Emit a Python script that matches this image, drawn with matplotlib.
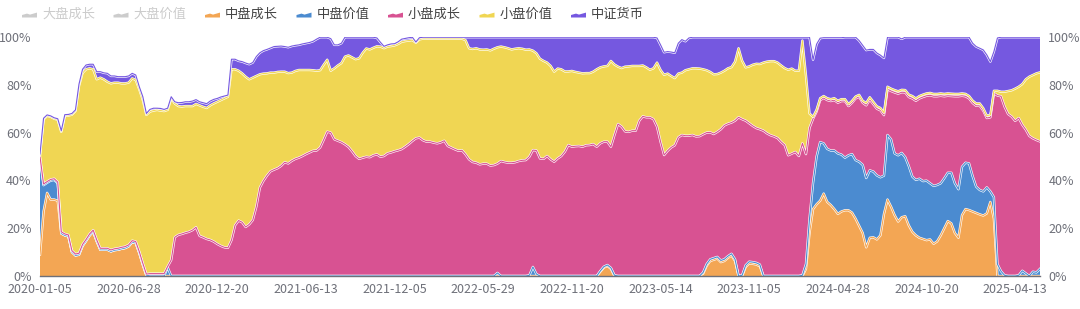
import numpy as np
import pandas as pd
import matplotlib
matplotlib.use("Agg")
import matplotlib.pyplot as plt
from matplotlib.patches import Polygon

plt.rcParams['font.family'] = ['Noto Sans CJK SC', 'DejaVu Sans']

# weekly category axis, a label every 25 weeks
weeks = pd.date_range('2020-01-05', periods=283, freq='7D')
dates = [d.strftime('%Y-%m-%d') for d in weeks]
tick_step = 25

legend_names = ['大盘成长', '大盘价值', '中盘成长', '中盘价值', '小盘成长', '小盘价值', '中证货币']
hidden_names = ['大盘成长', '大盘价值']

# weights in % (stack order: mid growth, mid value, small growth, small value, money)
mid_growth = [
    9, 27, 34.8, 32, 32, 31.5, 17.8, 17, 16.6, 10,
    8.6, 8.9, 12.6, 14.7, 17, 18.6, 14.5, 11, 11, 11,
    10.3, 10.8, 11, 11.4, 11.7, 12.4, 14.2, 13.8, 9.6, 4.7,
    0.3, 0, 0, 0, 0, 0, 0, 0, 0, 0,
    0, 0, 0, 0, 0, 0, 0, 0, 0, 0,
    0, 0, 0, 0, 0, 0, 0, 0, 0, 0,
    0, 0, 0, 0, 0, 0, 0, 0, 0, 0,
    0, 0, 0, 0, 0, 0, 0, 0, 0, 0,
    0, 0, 0, 0, 0, 0, 0, 0, 0, 0,
    0, 0, 0, 0, 0, 0, 0, 0, 0, 0,
    0, 0, 0, 0, 0, 0, 0, 0, 0, 0,
    0, 0, 0, 0, 0, 0, 0, 0, 0, 0,
    0, 0, 0, 0, 0, 0, 0, 0, 0, 0,
    0, 0, 0, 0, 0, 0, 0, 0, 0, 0,
    0, 0, 0, 0, 0, 0, 0, 0, 0, 0,
    0, 0, 0, 0, 0, 0, 0, 0, 1.8, 3.5,
    4.2, 3, 0, 0, 0, 0, 0, 0, 0, 0,
    0, 0, 0, 0, 0, 0, 0, 0, 0, 0,
    0, 0, 0, 0, 0, 0, 0, 1, 4.3, 6.3,
    6.8, 7.3, 5.8, 6.3, 7.6, 8.6, 6.3, 0, 0, 3.8,
    5.3, 5.1, 4.8, 4.1, 0, 0, 0, 0, 0, 0,
    0, 0, 0, 0, 0, 0, 3, 18, 28, 30,
    31.5, 34.5, 31, 29.7, 28, 26, 27, 27.5, 27.5, 26.5,
    24, 21, 18, 12, 16, 16.2, 15.3, 17, 26, 32,
    29, 25.5, 22.8, 24.6, 25, 21.2, 18.5, 17, 16, 15.5,
    15, 15.3, 13.5, 14.5, 17, 20, 23, 22, 18, 16,
    25.5, 28, 27.6, 27, 26.4, 25.8, 25.3, 26.2, 31, 24,
    0, 0, 0, 0, 0, 0, 0, 0, 0, 0,
    0, 0, 0,
]

mid_value = [
    40, 11, 4.2, 7.9, 8.2, 7.3, 0, 0, 0, 0,
    0, 0, 0, 0, 0, 0, 0, 0, 0, 0,
    0, 0, 0, 0, 0, 0, 0, 0, 0, 0,
    0, 0, 0, 0, 0, 0, 3.6, 0, 0, 0,
    0, 0, 0, 0, 0, 0, 0, 0, 0, 0,
    0, 0, 0, 0, 0, 0, 0, 0, 0, 0,
    0, 0, 0, 0, 0, 0, 0, 0, 0, 0,
    0, 0, 0, 0, 0, 0, 0, 0, 0, 0,
    0, 0, 0, 0, 0, 0, 0, 0, 0, 0,
    0, 0, 0, 0, 0, 0, 0, 0, 0, 0,
    0, 0, 0, 0, 0, 0, 0, 0, 0, 0,
    0, 0, 0, 0, 0, 0, 0, 0, 0, 0,
    0, 0, 0, 0, 0, 0, 0, 0, 0, 1.3,
    0, 0, 0, 0, 0, 0, 0, 0, 0.3, 3.8,
    0.8, 0, 0, 0, 0, 0, 0, 0, 0, 0,
    0, 0, 0, 0, 0, 0, 0, 0, 0.3, 0.4,
    0.4, 0.4, 0.3, 0, 0, 0, 0, 0, 0, 0,
    0, 0, 0, 0, 0, 0, 0, 0, 0, 0,
    0, 0, 0, 0, 0, 0, 0, 0.5, 0.7, 0.7,
    0.7, 0.7, 0.7, 0.7, 0.7, 0.7, 0.7, 0, 0.3, 0.7,
    0.7, 0.7, 0.7, 0.7, 0, 0, 0, 0, 0, 0,
    0, 0, 0, 0, 0, 0.3, 2, 6, 11, 20,
    24.5, 21, 22.2, 22.8, 24.5, 25.3, 23.8, 22, 23, 24.5,
    24.5, 26.8, 28.5, 29, 28.2, 27.5, 26.8, 24.3, 16, 27,
    28.2, 25.8, 27.7, 26.9, 24.7, 24.8, 23.1, 23.2, 24.7, 24.2,
    24.9, 23.5, 24.2, 23.6, 21.8, 20.9, 20.2, 21.2, 20.8, 20.3,
    20.2, 19.4, 19.5, 14.8, 11, 10.2, 10.1, 10.9, 4.4, 9,
    5, 2, 0.3, 0, 0, 0, 0.3, 2.2, 1.1, 0,
    1.8, 1.5, 3,
]

small_growth = [
    1, 0.5, 0.5, 0.5, 0.5, 0.5, 0.7, 0.6, 0.6, 0.6,
    0.6, 0.6, 0.6, 0.6, 0.6, 0.6, 0.6, 0.6, 0.6, 0.6,
    0.6, 0.6, 0.6, 0.6, 0.6, 0.6, 0.6, 0.6, 0.6, 0.6,
    0.5, 1, 1, 1, 1, 1, 0.4, 6.7, 16.2, 17.2,
    17.6, 18.1, 18.5, 19.2, 20.4, 16.8, 16.2, 15.5, 15.1, 14.4,
    13.4, 12.6, 12, 11.8, 15, 21.2, 23.2, 22.5, 20.5, 21.6,
    23.4, 29, 37, 39.8, 42, 43.8, 44.5, 45.1, 46.1, 47.6,
    47.1, 48.2, 49, 49.5, 50.2, 51, 51.7, 52.4, 52.5, 53.8,
    57, 60.4, 60, 57.2, 56.6, 56, 55.1, 54, 52.2, 50.2,
    49, 49.5, 49.9, 49.7, 50.5, 50.9, 49.9, 50.2, 51.3, 51.7,
    52.2, 52.6, 53.1, 54.1, 55.2, 56.5, 57.6, 57.9, 56.8, 56.2,
    56.2, 55.8, 55.5, 55.9, 56.6, 54.4, 53.7, 53, 52.4, 52.6,
    50.9, 48.8, 47.7, 47.4, 46.7, 47, 47, 46.2, 46.4, 45.7,
    48.1, 47.7, 47.4, 47.4, 47.6, 48.1, 48.4, 48.5, 49.6, 48.9,
    51.7, 49.2, 49, 50.2, 48.8, 47.8, 49.2, 50.2, 52, 54.8,
    54.1, 54.3, 54.4, 54.1, 54.7, 54.8, 55.2, 54.1, 53.4, 52.3,
    51.6, 50.7, 58.7, 63.6, 62.5, 60.5, 60.3, 60.8, 60.8, 65,
    66.8, 66.4, 66.4, 65.6, 62.5, 56.2, 50.6, 52.4, 53.8, 54.7,
    58, 59, 58.7, 58.7, 59, 58.4, 58.5, 57.8, 55, 53.1,
    51.9, 52.3, 54.9, 56, 55.4, 54.9, 58, 66.4, 65.3, 60.5,
    57.9, 57, 56.4, 56.6, 60.8, 59.7, 58.9, 58.4, 57.7, 56.1,
    54.8, 50.5, 51.2, 51.9, 50.2, 55.2, 46, 38, 26.8, 18.8,
    17.6, 19, 20.4, 20.7, 21.1, 21.2, 22.4, 23.7, 20.6, 21.5,
    25.8, 27.2, 26, 30.4, 29.6, 28.2, 27.9, 28, 25.3, 19.2,
    20.2, 25.5, 25.8, 25.4, 27.1, 28.9, 32.7, 33.1, 33.6, 35.2,
    35.5, 36.8, 37.5, 37.1, 36.6, 34.3, 32.2, 32.1, 36.4, 38.9,
    29.7, 27.8, 27.2, 30.6, 33.8, 35.2, 33.8, 29, 31, 43.5,
    70.5, 73.2, 70.6, 67.8, 66.7, 64.9, 65.8, 61.1, 60.1, 58.6,
    55.8, 55.4, 53.3,
]

small_value = [
    0.5, 27, 27.5, 26.2, 25.1, 26.1, 41.8, 49.4, 49.9, 56.9,
    59.8, 70, 71.8, 71.2, 69.3, 67.3, 67.2, 71.4, 70.7, 69.7,
    69.7, 69.5, 69.3, 68.6, 68.3, 67.9, 67.9, 67.6, 67.9, 68.3,
    66.6, 67.8, 68.2, 68.5, 68.2, 68, 65.5, 67.6, 56, 53.9,
    53.3, 53, 52.6, 51.9, 51.6, 54.6, 54.6, 54.8, 56.3, 57.8,
    59.5, 61, 62.3, 63.2, 71.5, 65.3, 62.7, 62.3, 62.9, 60.7,
    59.6, 54.7, 47.4, 44.9, 42.8, 41.3, 40.6, 40.3, 39.4, 37.9,
    37.8, 36.9, 36.8, 36.7, 36, 35.2, 34.5, 33.7, 33.4, 32.3,
    31.4, 30.1, 25.9, 29.7, 31.5, 33.1, 36.7, 38.3, 39.3, 40.5,
    42.1, 43.9, 45.3, 45.1, 45, 45.2, 46.1, 45.1, 44.7, 44.5,
    44.3, 44.5, 44.9, 44.2, 43.3, 42.2, 40, 41.1, 42.5, 43.1,
    43.1, 43.5, 43.8, 43.4, 42.7, 44.9, 45.6, 46.3, 46.9, 46.7,
    47.8, 46.5, 47.3, 47.9, 48.1, 47.7, 47.8, 48.2, 48.7, 48.7,
    47.9, 48, 47.9, 47.4, 47.5, 47.2, 46.7, 46.2, 44.9, 41.6,
    40.7, 41.7, 41, 39.1, 39.1, 37.7, 37.6, 36.3, 33.6, 30.8,
    31.7, 31.1, 30.7, 30.7, 30.2, 30.1, 30.3, 32.4, 31.8, 31.5,
    31.7, 35.9, 29.5, 24, 24.5, 27.1, 27.4, 27.1, 27.1, 22.9,
    21.3, 20.9, 19.9, 21.3, 26.8, 30, 33.6, 32.3, 29.9, 28.1,
    26.7, 26.1, 27.4, 27.8, 27.9, 28.5, 28.3, 27.2, 26.1, 25.3,
    25, 24.2, 23.7, 22.9, 23.2, 23.2, 24.7, 28.9, 24.5, 22.3,
    23.8, 25.6, 26.9, 27.3, 28.5, 30, 31, 31.5, 31.6, 32,
    32.2, 35.8, 35.6, 34, 35.7, 43, 33, 6, 0.8, 0.8,
    0.8, 0.8, 0.8, 0.8, 0.8, 0.8, 0.8, 0.8, 0.8, 0.8,
    0.8, 0.8, 0.8, 1, 1, 1, 1, 1, 1, 1,
    1, 1, 1, 1, 1, 1, 1, 1, 1, 1,
    1, 1, 1, 1, 1, 1, 1, 1, 1, 1,
    1, 1, 1, 1, 1, 1, 1, 1, 1, 1,
    2, 1.9, 6.2, 9.6, 11, 13.5, 13.1, 17, 21.1, 24.8,
    26.5, 27.9, 28.9,
]

money = [
    0.5, 0.5, 0.4, 0.4, 0.4, 0.4, 0.5, 0.5, 0.5, 0.5,
    0.5, 0.8, 1.5, 1.8, 1.7, 2.1, 3.2, 2.5, 2.7, 3.5,
    3.1, 2.8, 2.5, 2.8, 2.8, 2.8, 2.1, 2.1, 1.1, 1.4,
    0.6, 0.9, 1, 0.7, 0.9, 0.7, 0.7, 0.7, 0.7, 1.4,
    1.7, 1.8, 1.8, 2.1, 1.8, 1.5, 1.7, 1.8, 1.8, 1.7,
    1.4, 1.3, 1, 0.7, 4.2, 4.2, 4.1, 4.9, 5.7, 6.3,
    6.3, 8.1, 9, 9.6, 10, 10.3, 10.9, 10.7, 10.7, 10.5,
    10.8, 11.1, 10.7, 10.5, 10.9, 11.2, 11.5, 12.1, 13.2, 13.8,
    11.5, 9.4, 13.4, 9.8, 8.6, 8.3, 8.1, 7.6, 8.4, 9.2,
    8.8, 6.5, 4.7, 5.1, 4.4, 3.5, 1.8, 0.8, 0.7, 0.9,
    0.7, 0.9, 1.1, 1.1, 1.2, 1.2, 0.3, 0.7, 0.6, 0.6,
    0.6, 0.6, 0.6, 0.6, 0.6, 0.6, 0.6, 0.6, 0.6, 0.6,
    1.2, 4.6, 4.9, 4.6, 5.1, 5.2, 5.1, 5.5, 4.8, 4.2,
    3.9, 4.2, 4.6, 5.1, 4.8, 4.6, 4.8, 5.2, 5.1, 5.6,
    6.7, 9, 9.9, 10.6, 12, 14.4, 13.1, 13.4, 14.3, 14.3,
    14.1, 14.5, 14.8, 15.1, 15, 15, 14.4, 13.4, 12.6, 12.2,
    12, 9.9, 11.4, 12.3, 12.9, 12.3, 12.2, 12, 12, 12,
    11.8, 12.6, 13.6, 13, 10.3, 10.5, 9.4, 9.2, 10, 10.6,
    12.7, 13.8, 12.1, 13.1, 13, 13, 13.1, 13.4, 13.8, 14.5,
    15.5, 15.4, 14.8, 14, 13, 12.5, 10.2, 4.6, 9.8, 12.6,
    12.2, 11.5, 11.1, 11.2, 10.6, 10.2, 10, 10, 10.6, 11.8,
    12.9, 13.6, 13.1, 14, 14, 1.4, 15.9, 31.9, 23.9, 27.4,
    25.1, 24.4, 25.3, 25.7, 25.3, 26.4, 25.7, 25.9, 28, 26.6,
    24.8, 22.7, 23.2, 22.1, 20, 21.9, 22.3, 22.1, 22.9, 20.7,
    21.5, 22.1, 22.6, 21.3, 22.1, 24, 24.6, 25.6, 24.6, 24,
    23.5, 23.3, 23.7, 23.7, 23.5, 23.7, 23.5, 23.6, 23.7, 23.7,
    23.5, 23.7, 24.6, 24, 23.8, 23.1, 24.4, 25.4, 22.3, 16.4,
    22.1, 22.8, 22.8, 22.5, 22.2, 21.5, 20.7, 19.6, 17.6, 16.5,
    15.8, 15.1, 14.7,
]

series = [mid_growth, mid_value, small_growth, small_value, money]
colors = ['#F3A654', '#4B8BD0', '#D85292', '#F0D653', '#7558E0']
legend_colors = ['#CCCCCC', '#CCCCCC'] + colors

fig = plt.figure(figsize=(10.8, 3.09), dpi=100)
W, H = 1080, 309
ax = fig.add_axes([40 / W, 33 / H, 1000 / W, 239 / H])

x = np.arange(len(dates))
ax.stackplot(x, *series, colors=colors, linewidth=0)

# boundary lines: white rim with the series colour on top
tops = np.cumsum(np.array(series, dtype=float), axis=0)
for top, c in zip(tops, colors):
    ax.plot(x, top, color='white', lw=1.7, solid_joinstyle='round')
    ax.plot(x, top, color=c, lw=0.8, solid_joinstyle='round')

ax.set_xlim(0, len(dates) - 1)
ax.set_ylim(0, 100)
ticks = x[::tick_step]
ax.set_xticks(ticks)
ax.set_xticklabels([dates[i] for i in ticks])
ax.set_yticks([0, 20, 40, 60, 80, 100])
ax.set_yticklabels(['0%', '20%', '40%', '60%', '80%', '100%'])
ax.tick_params(axis='x', length=0, pad=5, labelsize=9, colors='#6E7079')
ax.tick_params(axis='y', length=0, pad=6, labelsize=9, colors='#6E7079',
               labelleft=True, labelright=True)
for s in ['top', 'left', 'right']:
    ax.spines[s].set_visible(False)
ax.spines['bottom'].set_color('#6E7079')
ax.spines['bottom'].set_linewidth(1)

# legend along the top
for k, (name, c) in enumerate(zip(legend_names, legend_colors)):
    x0 = 22 + 91.5 * k
    pts = [(x0, 17.5), (x0, 15), (x0 + 5, 13.6), (x0 + 8, 14.6), (x0 + 15, 12.6), (x0 + 15, 17.5)]
    fig.add_artist(Polygon([(px / W, 1 - py / H) for px, py in pts], closed=True,
                           facecolor=c, edgecolor='none', transform=fig.transFigure))
    fig.text((x0 + 20) / W, 1 - 14.5 / H, name, fontsize=9.5, va='center', ha='left',
             color='#CCCCCC' if name in hidden_names else '#444444')

fig.savefig('out.png', dpi=100)
